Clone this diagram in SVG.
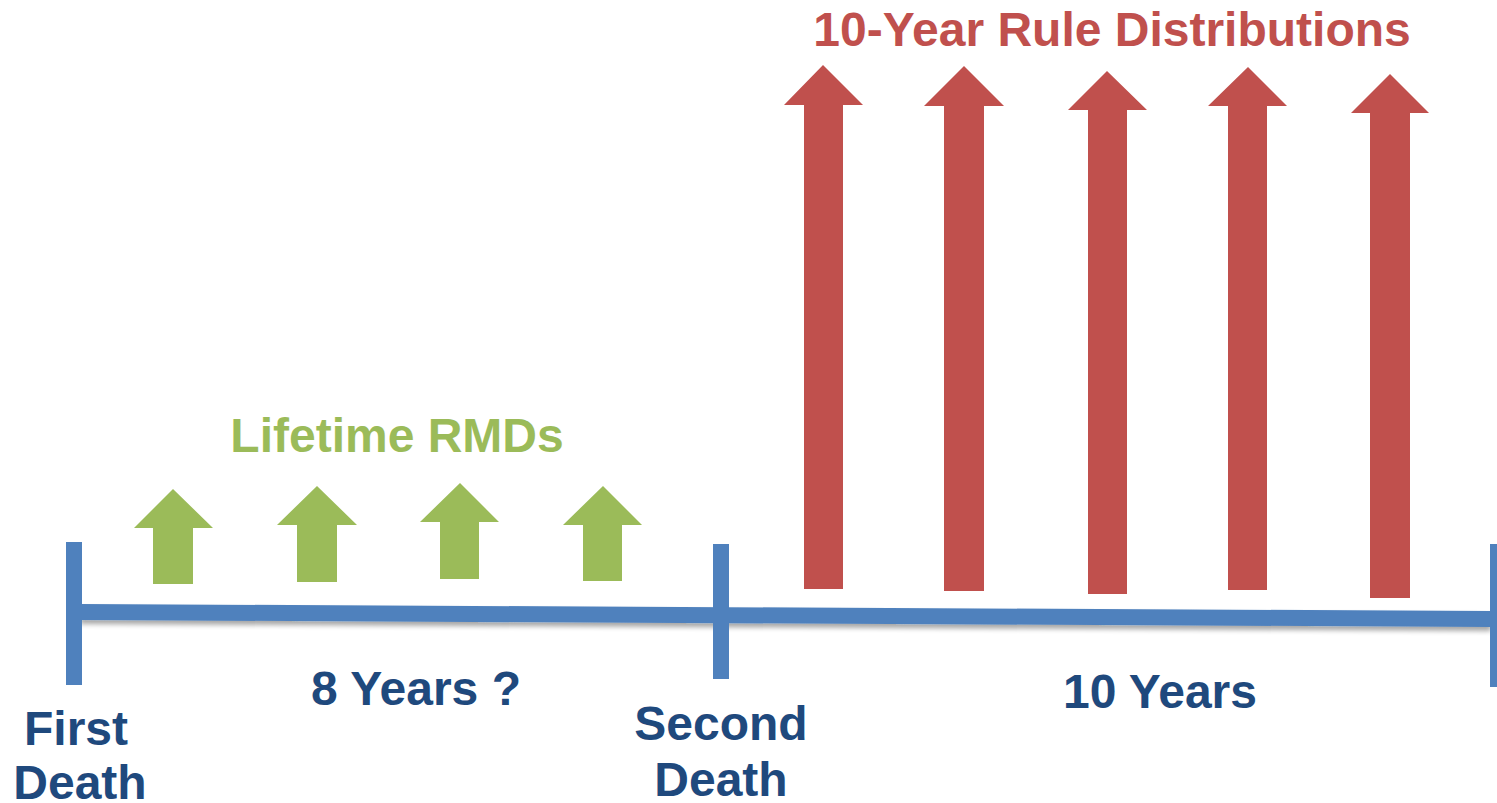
<svg xmlns="http://www.w3.org/2000/svg" width="1497" height="803" viewBox="0 0 1497 803">
<style>
.t{font-family:"Liberation Sans",Arial,sans-serif;font-weight:bold;font-size:48px;text-anchor:middle}
.blue{fill:#1F497D}
.green{fill:#9BBB59}
.red{fill:#C0504D}
.line{fill:#4F81BD}
</style>
<defs>
<filter id="sh" x="-5%" y="-50%" width="110%" height="300%">
<feGaussianBlur in="SourceAlpha" stdDeviation="2.5"/>
<feOffset dy="4" result="b"/>
<feComponentTransfer><feFuncA type="linear" slope="0.35"/></feComponentTransfer>
<feMerge><feMergeNode/><feMergeNode in="SourceGraphic"/></feMerge>
</filter>
</defs>
<rect width="1497" height="803" fill="#fff"/>
<g id="connectors">
<polygon class="line" filter="url(#sh)" points="80,604 1491,611 1491,627 80,620"/>
</g>
<g id="tick-first"><rect class="line" x="66" y="542" width="16" height="143"/></g>
<g id="tick-second"><rect class="line" x="713" y="544" width="16" height="135"/></g>
<g id="tick-end"><rect class="line" x="1490" y="544" width="16" height="143"/></g>
<g id="green-arrows">
<polygon class="green" points="173,489 213,528 193,528 193,584 153,584 153,528 134,528"/>
<polygon class="green" points="317,486 357,525 337,525 337,582 297,582 297,525 277,525"/>
<polygon class="green" points="460,483 499,522 479,522 479,579 440,579 440,522 420,522"/>
<polygon class="green" points="603,486 642,525 622,525 622,581 583,581 583,525 563,525"/>
</g>
<g id="red-arrows">
<polygon class="red" points="823,65 863,105 843,105 843,589 804,589 804,105 784,105"/>
<polygon class="red" points="964,66 1004,106 984,106 984,591 944,591 944,106 924,106"/>
<polygon class="red" points="1107,71 1147,110 1127,110 1127,594 1088,594 1088,110 1068,110"/>
<polygon class="red" points="1248,67 1287,106 1267,106 1267,590 1228,590 1228,106 1208,106"/>
<polygon class="red" points="1390,74 1429,113 1410,113 1410,598 1370,598 1370,113 1351,113"/>
</g>
<g id="labels">
<text class="t red" x="1112" y="46" font-size="49">10-Year Rule Distributions</text>
<text class="t green" x="397" y="452" font-size="49">Lifetime RMDs</text>
<text class="t blue" x="416" y="705">8 Years ?</text>
<text class="t blue" x="1160" y="708">10 Years</text>
<text class="t blue" x="76" y="745">First</text>
<text class="t blue" x="80" y="799">Death</text>
<text class="t blue" x="721" y="740">Second</text>
<text class="t blue" x="721" y="796">Death</text>
</g>
</svg>
